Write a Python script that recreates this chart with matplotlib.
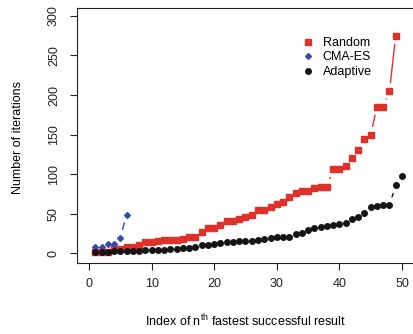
import matplotlib
matplotlib.use("Agg")
import matplotlib.pyplot as plt
import numpy as np

plt.rcParams['font.family'] = ['Liberation Sans', 'DejaVu Sans']
plt.rcParams['mathtext.default'] = 'regular'

# values
random_iters = [2, 2, 2, 5, 5, 8, 8, 11, 14, 14, 15.5, 17.5, 17.5, 17.5, 18.5,
                21, 21, 27, 32, 32, 36, 41, 41, 44, 46, 48, 55, 55, 59, 63,
                65, 71, 76, 78.5, 78.5, 83, 84.5, 84.5, 106, 106, 111, 120, 130,
                144, 150, 185, 185, 205, 275]
cmaes_iters = [8, 8, 11.5, 11.5, 20, 49]
adaptive_iters = [1.5, 1.5, 1.5, 3, 3, 3, 3, 3, 4, 4, 4, 4, 5, 5, 6.5,
                  7, 8, 11, 11, 12, 13, 14, 15, 15.5, 16, 16, 17.5, 18, 20, 21,
                  21, 21, 24, 26, 29, 32, 33, 35, 36, 37, 38, 44, 46, 51, 58,
                  59.5, 61, 61, 86, 98]

series = [
    ("Random", random_iters, "#e0302a", "s", 5.0),
    ("CMA-ES", cmaes_iters, "#3a4aa8", "D", 3.0),
    ("Adaptive", adaptive_iters, "#151515", "o", 4.0),
]

fig = plt.figure(figsize=(4.13, 3.34), dpi=100)
ax = fig.add_axes([76.5 / 413, 71.5 / 334, 338 / 413, 254.5 / 334])
ax.set_xlim(-2, 52)
ax.set_ylim(-11.5, 310)

# R type="b": line segments with a gap around every point
gap = 8.0
for name, vals, col, mk, ms in series:
    x = np.arange(1, len(vals) + 1)
    y = np.array(vals, dtype=float)
    pts = ax.transData.transform(np.column_stack([x, y]))
    inv = ax.transData.inverted()
    for p, q in zip(pts[:-1], pts[1:]):
        d = np.hypot(*(q - p))
        if d > 2 * gap:
            u = (q - p) / d
            a = inv.transform(p + u * gap)
            b = inv.transform(q - u * gap)
            ax.plot([a[0], b[0]], [a[1], b[1]], color=col, lw=1.0,
                    solid_capstyle='butt')
    ax.plot(x, y, linestyle='none', marker=mk, ms=ms, color=col,
            mec=col, label=name)

ax.set_xticks([0, 10, 20, 30, 40, 50])
ax.set_yticks([0, 50, 100, 150, 200, 250, 300])
ax.tick_params(direction='out', length=5, width=0.8, labelsize=9, pad=6,
               colors='#222222')
ax.tick_params(axis='y', labelrotation=90, pad=7)
for lab in ax.get_yticklabels():
    lab.set_va('center')
for s in ax.spines.values():
    s.set_linewidth(0.8)
    s.set_color('#222222')

ax.set_xlabel(r'Index of n$^{th}$ fastest successful result', fontsize=9)
ax.xaxis.label.set_va('baseline')
ax.xaxis.set_label_coords(0.5, -0.252)
ax.set_ylabel('Number of iterations', fontsize=9)
ax.yaxis.label.set_va('center')
ax.yaxis.set_label_coords(-0.173, 0.49)

ax.legend(loc='upper left', bbox_to_anchor=(302 / 413, 1 - 37 / 334),
          bbox_transform=fig.transFigure, frameon=False, fontsize=9,
          handlelength=1.0, handletextpad=0.65, labelspacing=0.2,
          borderpad=0, borderaxespad=0)

fig.savefig("out.png", dpi=100)
